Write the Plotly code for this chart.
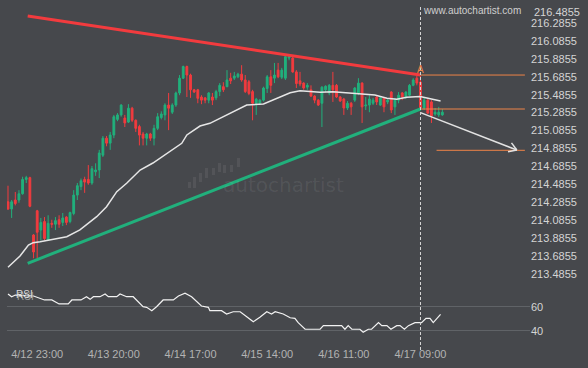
import math
import plotly.graph_objects as go

# ---------------- data ----------------
open_ = [214.29, 214.21, 214.31, 214.31, 214.38, 214.54, 214.56, 213.92, 214.19, 213.975,
         214.07, 213.86, 214.05, 214.04, 214.09, 214.06, 214.12, 214.07, 214.16, 214.365,
         214.46, 214.54, 214.54, 214.50, 214.625, 214.645, 214.81, 215.00, 214.945, 215.035,
         215.21, 215.26, 215.225, 215.18, 215.335, 215.20, 215.13, 215.047, 215.00, 215.047,
         215.00, 215.11, 215.23, 215.26, 215.37, 215.29, 215.37, 215.505, 215.67, 215.80,
         215.705, 215.54, 215.54, 215.46, 215.45, 215.425, 215.46, 215.45, 215.52, 215.575,
         215.575, 215.67, 215.67, 215.685, 215.715, 215.65, 215.63, 215.52, 215.39, 215.39,
         215.425, 215.555, 215.685, 215.67, 215.76, 215.68, 215.67, 215.895, 215.895, 215.74,
         215.64, 215.615, 215.57, 215.54, 215.47, 215.425, 215.39, 215.54, 215.505, 215.59,
         215.59, 215.46, 215.437, 215.337, 215.39, 215.425, 215.505, 215.615, 215.36, 215.37,
         215.39, 215.46, 215.37, 215.45, 215.405, 215.515, 215.35, 215.425, 215.505, 215.46,
         215.48, 215.59, 215.67, 215.627, 215.337, 215.425, 215.405, 215.27, 215.26, 215.26]
high = [214.47, 214.31, 214.40, 214.42, 214.57, 214.58, 214.57, 213.93, 214.20, 214.11,
        214.12, 214.14, 214.09, 214.12, 214.14, 214.165, 214.13, 214.18, 214.42, 214.50,
        214.55, 214.57, 214.70, 214.69, 214.72, 214.87, 215.025, 215.025, 215.07, 215.26,
        215.28, 215.38, 215.26, 215.38, 215.35, 215.21, 215.15, 215.07, 215.06, 215.06,
        215.15, 215.28, 215.30, 215.39, 215.505, 215.39, 215.52, 215.705, 215.81, 215.81,
        215.72, 215.55, 215.55, 215.48, 215.46, 215.515, 215.505, 215.54, 215.615, 215.625,
        215.76, 215.73, 215.74, 215.73, 215.815, 215.705, 215.65, 215.54, 215.45, 215.435,
        215.575, 215.705, 215.76, 215.84, 215.84, 215.785, 215.92, 215.93, 215.91, 215.76,
        215.74, 215.625, 215.615, 215.59, 215.48, 215.435, 215.58, 215.59, 215.605, 215.74,
        215.605, 215.47, 215.45, 215.415, 215.405, 215.57, 215.67, 215.625, 215.46, 215.48,
        215.45, 215.47, 215.46, 215.46, 215.437, 215.525, 215.45, 215.515, 215.515, 215.525,
        215.605, 215.67, 215.695, 215.695, 215.45, 215.437, 215.425, 215.337, 215.35, 215.325]
low = [214.20, 214.11, 214.25, 214.28, 214.37, 214.50, 214.23, 213.66, 213.66, 213.86,
       213.86, 213.857, 214.00, 213.975, 214.00, 214.02, 214.03, 214.05, 214.14, 214.31,
       214.42, 214.39, 214.48, 214.48, 214.58, 214.555, 214.79, 214.91, 214.87, 215.00,
       215.19, 215.24, 215.125, 215.17, 215.18, 215.07, 214.92, 214.92, 214.92, 214.97,
       214.92, 215.09, 215.21, 215.20, 215.09, 215.27, 215.35, 215.48, 215.66, 215.46,
       215.45, 215.505, 215.39, 215.38, 215.39, 215.39, 215.37, 215.425, 215.47, 215.515,
       215.57, 215.605, 215.65, 215.67, 215.63, 215.505, 215.48, 215.20, 215.26, 215.38,
       215.41, 215.505, 215.505, 215.615, 215.67, 215.66, 215.65, 215.87, 215.73, 215.56,
       215.58, 215.54, 215.54, 215.46, 215.39, 215.36, 215.125, 215.515, 215.48, 215.405,
       215.45, 215.405, 215.26, 215.315, 215.26, 215.405, 215.48, 215.17, 215.315, 215.29,
       215.37, 215.37, 215.36, 215.29, 215.38, 215.28, 215.26, 215.39, 215.425, 215.437,
       215.47, 215.58, 215.59, 215.315, 215.315, 215.27, 215.17, 215.25, 215.237, 215.25]
close = [214.21, 214.29, 214.27, 214.38, 214.54, 214.56, 214.24, 213.73, 213.95, 214.06,
         213.88, 214.05, 214.04, 214.08, 214.04, 214.11, 214.06, 214.17, 214.365, 214.47,
         214.525, 214.51, 214.50, 214.66, 214.645, 214.835, 215.00, 214.945, 215.035, 215.24,
         215.26, 215.37, 215.17, 215.335, 215.20, 215.11, 215.035, 215.00, 215.047, 215.00,
         215.11, 215.24, 215.27, 215.37, 215.335, 215.37, 215.505, 215.67, 215.80, 215.705,
         215.54, 215.515, 215.445, 215.425, 215.425, 215.505, 215.425, 215.52, 215.59, 215.54,
         215.65, 215.64, 215.695, 215.715, 215.65, 215.52, 215.50, 215.39, 215.435, 215.425,
         215.56, 215.685, 215.59, 215.705, 215.685, 215.76, 215.91, 215.91, 215.74, 215.61,
         215.605, 215.56, 215.59, 215.47, 215.425, 215.37, 215.57, 215.58, 215.59, 215.54,
         215.46, 215.415, 215.337, 215.39, 215.35, 215.56, 215.615, 215.35, 215.37, 215.437,
         215.425, 215.405, 215.45, 215.35, 215.425, 215.315, 215.425, 215.48, 215.46, 215.515,
         215.59, 215.65, 215.615, 215.337, 215.425, 215.28, 215.25, 215.29, 215.29, 215.29]
bar_index = list(range(len(close)))

ma_x = [0, 3.3, 5.6, 6.9, 8.8, 11.5, 16.1, 19.7, 24.3, 27, 29.8, 32.5, 36.2, 39.7, 44.4,
        47.6, 49, 52.6, 55.3, 59.9, 65.4, 70, 73.6, 77.3, 80, 85.5, 89, 93.7, 100.5,
        103.8, 106.5, 109.2, 112.9, 118.5]
ma_y = [213.559, 213.685, 213.808, 213.834, 213.845, 213.864, 213.901, 213.976, 214.124,
        214.236, 214.403, 214.497, 214.645, 214.723, 214.849, 214.943, 215.036, 215.136,
        215.166, 215.259, 215.371, 215.382, 215.445, 215.508, 215.530, 215.512, 215.519,
        215.501, 215.482, 215.445, 215.434, 215.456, 215.465, 215.415]

rsi_x = [0, 1, 2, 7, 10, 12, 14, 16.5, 17.5, 20, 21.5, 22.5, 23.4, 25.2, 26.6, 27.5, 29.8,
         30.7, 32.5, 34.3, 37, 38, 39.4, 40.7, 42.5, 45.3, 46.7, 48.5, 50.3, 53, 54.9,
         55.3, 58.5, 59.9, 61.7, 63.6, 65.4, 67.2, 69, 70.9, 72.2, 73.2, 75.4, 77.3, 78.6,
         79.5, 81.4, 85.5, 86.4, 91.4, 92.3, 93.2, 94.2, 96.4, 97.3, 98.7, 99.6, 101.5,
         102.4, 103.8, 104.9, 106.5, 107.4, 108.6, 109.7, 111.5, 113.3, 114.5, 115.6,
         116.5, 118.5]
rsi_y = [70.6, 68.3, 69.7, 68.9, 65.6, 65.6, 62.3, 62.3, 65.6, 65.6, 68.3, 66.1, 68.3,
         68.3, 70.6, 68.3, 68.3, 70.6, 68.3, 68.3, 60.0, 59.5, 56.7, 60.0, 65.6, 65.6,
         68.9, 71.2, 68.3, 60.6, 59.5, 56.7, 56.7, 53.9, 55.8, 55.8, 51.7, 47.5, 51.2,
         55.8, 53.9, 55.8, 53.9, 50.8, 50.3, 46.7, 41.2, 41.2, 44.2, 44.2, 41.2, 44.2,
         41.2, 41.2, 38.7, 41.2, 41.2, 46.7, 44.2, 44.2, 41.2, 44.2, 44.2, 41.2, 44.2,
         46.7, 46.7, 50.3, 50.3, 46.7, 53.6]

# pattern (triangle) lines, levels and forecast
resistance_x = [5.4, 113]
resistance_y = [216.364, 215.705]
support_x = [5.4, 113]
support_y = [213.604, 215.326]
level_prices = [215.705, 215.326, 214.865]
level_starts = [113, 113, 117.4]
level_end = 141.6
forecast_x = [113, 139.4]
forecast_y = [215.2855, 214.868]
breakout_bar = 113
pattern_label = "A"
pattern_label_price = 215.77

x_tick_bars = [8, 29, 50, 71, 92, 113]
x_tick_text = ["4/12 23:00", "4/13 20:00", "4/14 17:00", "4/15 14:00", "4/16 11:00", "4/17 09:00"]
price_ticks = [216.4855, 216.2855, 216.0855, 215.8855, 215.6855, 215.4855, 215.2855, 215.0855,
               214.8855, 214.6855, 214.4855, 214.2855, 214.0855, 213.8855, 213.6855, 213.4855]
rsi_ticks = [40, 60]

# ---------------- styling ----------------
W, H = 588, 368
ML, MR, MT, MB = 7, 58, 0, 22
BG = "#46484c"
GREEN = "#21b07c"
RED = "#f23b3e"
ORANGE = "#ee8448"
FONT = "Arial, 'Liberation Sans', sans-serif"
plot_w = W - ML - MR
plot_h = H - MT - MB
x_range = [-0.27, 143.0]
price_range = [213.4175, 216.5425]
price_px = 280
rsi_range = [27.25, 78.9]
rsi_px = 62

price_dom = [1 - price_px / plot_h, 1]
rsi_dom = [0, rsi_px / plot_h]


def px_x(p):  # pixel -> paper x
    return (p - ML) / plot_w


def px_y(p):  # pixel -> paper y
    return 1 - (p - MT) / plot_h


fig = go.Figure()

fig.add_trace(go.Candlestick(
    x=bar_index, open=open_, high=high, low=low, close=close,
    increasing=dict(line=dict(color=GREEN, width=1), fillcolor=GREEN),
    decreasing=dict(line=dict(color=RED, width=1), fillcolor=RED),
    whiskerwidth=0, showlegend=False, hoverinfo="skip", xaxis="x", yaxis="y"))

fig.add_trace(go.Scatter(x=ma_x, y=ma_y, mode="lines", line=dict(color="#e6e6e6", width=1.5),
                         showlegend=False, hoverinfo="skip", xaxis="x", yaxis="y"))

fig.add_trace(go.Scatter(x=resistance_x, y=resistance_y, mode="lines",
                         line=dict(color=RED, width=3), showlegend=False, hoverinfo="skip"))
fig.add_trace(go.Scatter(x=support_x, y=support_y, mode="lines",
                         line=dict(color=GREEN, width=3), showlegend=False, hoverinfo="skip"))

for lp, ls in zip(level_prices, level_starts):
    fig.add_trace(go.Scatter(x=[ls, level_end], y=[lp, lp], mode="lines",
                             line=dict(color=ORANGE, width=1), showlegend=False, hoverinfo="skip"))

# forecast arrow
fig.add_trace(go.Scatter(x=forecast_x, y=forecast_y, mode="lines",
                         line=dict(color="#e2e2e2", width=1.5), showlegend=False, hoverinfo="skip"))
ppx = plot_w / (x_range[1] - x_range[0])
ppy = price_px / (price_range[1] - price_range[0])
dxp = (forecast_x[1] - forecast_x[0]) * ppx
dyp = -(forecast_y[1] - forecast_y[0]) * ppy
ln = math.hypot(dxp, dyp)
ux, uy = -dxp / ln, -dyp / ln
arm = 9
heads_x, heads_y = [], []
for ang in (math.radians(32), math.radians(-32)):
    rx = ux * math.cos(ang) - uy * math.sin(ang)
    ry = ux * math.sin(ang) + uy * math.cos(ang)
    heads_x += [forecast_x[1] + rx * arm / ppx, forecast_x[1], None]
    heads_y += [forecast_y[1] - ry * arm / ppy, forecast_y[1], None]
fig.add_trace(go.Scatter(x=heads_x, y=heads_y, mode="lines",
                         line=dict(color="#e2e2e2", width=1.5), showlegend=False, hoverinfo="skip"))

# RSI
fig.add_trace(go.Scatter(x=rsi_x, y=rsi_y, mode="lines", line=dict(color="#f2f2f2", width=1.2),
                         showlegend=False, hoverinfo="skip", xaxis="x", yaxis="y2"))

shapes = [dict(type="line", xref="x", yref="paper", x0=breakout_bar, x1=breakout_bar,
               y0=px_y(350), y1=px_y(5), line=dict(color="#d6d6d6", width=1, dash="3px,2px"))]
# watermark logo bars
logo = [(188, 191, 182, 188), (193, 196, 177, 188), (199, 202, 173, 182), (205, 208, 168, 178),
        (212, 215, 168, 175), (218, 221, 163, 172), (223, 226, 165, 173), (230, 233, 165, 172),
        (237, 240, 158, 167)]
for x0, x1, y0, y1 in logo:
    shapes.append(dict(type="rect", xref="paper", yref="paper", x0=px_x(x0), x1=px_x(x1),
                       y0=px_y(y1), y1=px_y(y0), line=dict(width=0),
                       fillcolor="rgba(255,255,255,0.07)", layer="below"))

annotations = [
    dict(text="autochartist", xref="paper", yref="paper", x=px_x(221), y=px_y(185),
         xanchor="left", yanchor="middle", showarrow=False,
         font=dict(family="'DejaVu Sans', sans-serif", size=20, color="rgba(255,255,255,0.08)")),
    dict(text="www.autochartist.com", xref="paper", yref="paper", x=px_x(523), y=px_y(11),
         xanchor="right", yanchor="middle", showarrow=False,
         font=dict(family=FONT, size=10, color="#cfcfcf")),
    dict(text=pattern_label, xref="x", yref="y", x=breakout_bar, y=pattern_label_price,
         xanchor="center", yanchor="middle", showarrow=False,
         font=dict(family=FONT, size=10, color=ORANGE)),
    dict(text="RSI", xref="paper", yref="paper", x=px_x(14), y=px_y(294),
         xanchor="left", yanchor="middle", showarrow=False,
         font=dict(family=FONT, size=10, color="#dddddd", shadow="1px 2px 0px #9a9a9a")),
    dict(text=f"{price_ticks[0]:.4f}", xref="paper", yref="paper", x=1, xshift=2, y=px_y(11.5),
         xanchor="left", yanchor="middle", showarrow=False,
         font=dict(family=FONT, size=11, color="#d4d4d4")),
]

fig.update_layout(
    width=W, height=H, margin=dict(l=ML, r=MR, t=MT, b=MB, pad=0),
    paper_bgcolor=BG, plot_bgcolor=BG, showlegend=False,
    font=dict(family=FONT, size=11, color="#d4d4d4"),
    xaxis=dict(domain=[0, 1], anchor="y2", range=x_range, tickvals=x_tick_bars, ticktext=x_tick_text,
               showgrid=False, zeroline=False, showline=False, ticks="",
               tickfont=dict(size=11, color="#b3b3b3"), rangeslider=dict(visible=False)),
    yaxis=dict(domain=price_dom, anchor="x", side="right", range=price_range,
               tickvals=price_ticks[1:], ticktext=[f"{v:.4f}" for v in price_ticks[1:]],
               showgrid=False, zeroline=False, showline=False, ticks="",
               tickfont=dict(size=11, color="#d4d4d4")),
    yaxis2=dict(domain=rsi_dom, anchor="x", side="right", range=rsi_range,
                tickvals=rsi_ticks, ticktext=[str(v) for v in rsi_ticks],
                showgrid=True, gridcolor="#606367", gridwidth=1, zeroline=False, showline=False,
                ticks="", tickfont=dict(size=11, color="#d4d4d4")),
    shapes=shapes, annotations=annotations,
)

fig.write_html("out.html",
               config={"displayModeBar": False, "staticPlot": True},
               post_script="document.body.style.margin='0px';document.body.style.background='" + BG + "';")
